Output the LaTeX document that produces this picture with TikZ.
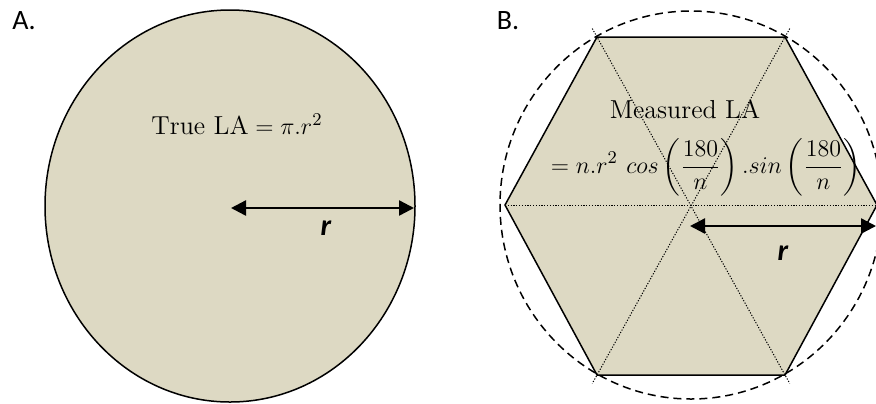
\documentclass[tikz,border=0pt]{standalone}
\usepackage{amsmath}
\usepackage{fontspec}
\usepackage{tikz}
\usetikzlibrary{arrows.meta,calc}
\newfontfamily\panelfont{Carlito}
\definecolor{LATan}{HTML}{DDD9C3}

\begin{document}
\begin{tikzpicture}[x=0.5pt,y=-0.5pt,
    radius arrow/.style={line width=1.2pt, {Triangle[length=7.5pt,width=7.5pt]}-{Triangle[length=7.5pt,width=7.5pt]}},
    spoke/.style={line width=0.5pt, dash pattern=on 0.6pt off 0.8pt},
    mathtext/.style={inner sep=0pt, font=\fontsize{13}{15}\selectfont}]
  \useasboundingbox (0,0) rectangle (876,403);
  \clip (0,0) rectangle (876,403);

  \node[font=\panelfont\fontsize{14}{16}\selectfont] (labA) at (24,21) {A.};
  \filldraw[fill=LATan, draw=black, line width=0.75pt] (230,206) ellipse [x radius=185, y radius=196];
  \node[mathtext] (trueLA) at (237,124) {$\mathrm{True\ LA}=\pi.r^2$};
  \coordinate (ca) at (231,208);
  \coordinate (cb) at (414,208);
  \draw[radius arrow] (ca) -- (cb);
  \node[font=\panelfont\bfseries\itshape\fontsize{15}{17}\selectfont] (ra) at (326,228) {r};

  \node[font=\panelfont\fontsize{14}{16}\selectfont] (labB) at (508,21) {B.};
  \coordinate (h1) at (597,37);
  \coordinate (h2) at (785,37);
  \coordinate (h3) at (877,205);
  \coordinate (h4) at (785,375);
  \coordinate (h5) at (597,375);
  \coordinate (h6) at (505,205);
  \coordinate (hc) at (691,205);
  \fill[LATan] (h1) -- (h2) -- (h3) -- (h4) -- (h5) -- (h6) -- cycle;
  \draw[spoke] ($(h1)!-0.025!(h4)$) -- ($(h4)!-0.025!(h1)$);
  \draw[spoke] ($(h2)!-0.025!(h5)$) -- ($(h5)!-0.025!(h2)$);
  \draw[spoke] (h6) -- (h3);
  \draw[line width=0.75pt] (h1) -- (h2) -- (h3) -- (h4) -- (h5) -- (h6) -- cycle;
  \draw[line width=0.75pt, dash pattern=on 4pt off 2.5pt] (hc) ellipse [x radius=191, y radius=194];
  \node[mathtext] (measLA) at (685,109) {$\mathrm{Measured\ LA}$};
  \node[mathtext] (formula) at (706,167)
    {$\displaystyle = n.r^2\ cos\left(\frac{180}{n}\right).sin\left(\frac{180}{n}\right)$};
  \coordinate (cc) at (690,226);
  \coordinate (cd) at (876,226);
  \draw[radius arrow] (cc) -- (cd);
  \node[font=\panelfont\bfseries\itshape\fontsize{15}{17}\selectfont] (rb) at (783,253) {r};
\end{tikzpicture}
\end{document}
